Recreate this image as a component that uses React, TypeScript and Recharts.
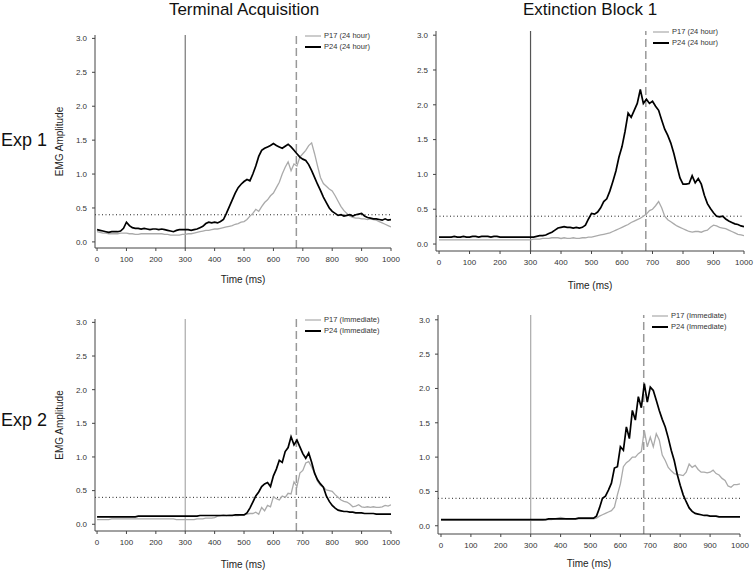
import { LineChart, Line, XAxis, YAxis, ReferenceLine, Legend } from 'recharts';

const times = Array.from({ length: 101 }, (_, i) => i * 10);

const p24TermExp1 = [
  0.18, 0.17, 0.16, 0.15, 0.14, 0.15, 0.15, 0.15, 0.16, 0.20,
  0.29, 0.24, 0.21, 0.20, 0.20, 0.19, 0.20, 0.19, 0.18, 0.19,
  0.19, 0.18, 0.19, 0.18, 0.17, 0.16, 0.15, 0.17, 0.18, 0.18,
  0.18, 0.18, 0.17, 0.18, 0.19, 0.21, 0.23, 0.27, 0.29, 0.28,
  0.29, 0.28, 0.30, 0.33, 0.42, 0.52, 0.62, 0.72, 0.80, 0.85,
  0.89, 0.92, 0.90, 1.00, 1.12, 1.26, 1.35, 1.38, 1.40, 1.42,
  1.45, 1.42, 1.40, 1.38, 1.41, 1.44, 1.40, 1.35, 1.30, 1.25,
  1.22, 1.20, 1.14, 1.05, 0.95, 0.85, 0.76, 0.66, 0.58, 0.50,
  0.45, 0.42, 0.39, 0.40, 0.38, 0.39, 0.40, 0.38, 0.40, 0.41,
  0.42, 0.38, 0.36, 0.35, 0.34, 0.34, 0.33, 0.32, 0.34, 0.32,
  0.33,
];

const p17TermExp1 = [
  0.15, 0.14, 0.13, 0.13, 0.12, 0.12, 0.12, 0.12, 0.13, 0.13,
  0.13, 0.12, 0.12, 0.11, 0.11, 0.12, 0.12, 0.12, 0.12, 0.12,
  0.12, 0.12, 0.12, 0.11, 0.11, 0.10, 0.10, 0.10, 0.10, 0.11,
  0.11, 0.12, 0.12, 0.13, 0.14, 0.15, 0.16, 0.17, 0.17, 0.18,
  0.19, 0.19, 0.20, 0.21, 0.22, 0.23, 0.24, 0.26, 0.27, 0.29,
  0.30, 0.33, 0.38, 0.42, 0.48, 0.45, 0.52, 0.58, 0.62, 0.68,
  0.72, 0.80, 0.88, 1.00, 1.10, 1.18, 1.05, 1.15, 1.12, 1.25,
  1.30, 1.35, 1.42, 1.46, 1.30, 1.12, 0.95, 0.86, 0.82, 0.78,
  0.75, 0.68, 0.60, 0.52, 0.46, 0.42, 0.38, 0.36, 0.35, 0.35,
  0.34, 0.34, 0.33, 0.34, 0.33, 0.32, 0.30, 0.28, 0.26, 0.24,
  0.22,
];

const p24ExtExp1 = [
  0.10, 0.10, 0.10, 0.10, 0.10, 0.11, 0.10, 0.10, 0.11, 0.10,
  0.10, 0.11, 0.11, 0.10, 0.11, 0.11, 0.11, 0.10, 0.11, 0.11,
  0.10, 0.10, 0.10, 0.10, 0.10, 0.10, 0.10, 0.10, 0.10, 0.10,
  0.10, 0.10, 0.11, 0.12, 0.12, 0.13, 0.15, 0.17, 0.20, 0.23,
  0.24, 0.25, 0.24, 0.24, 0.23, 0.24, 0.23, 0.24, 0.27, 0.36,
  0.44, 0.43, 0.46, 0.52, 0.61, 0.65, 0.76, 0.90, 1.05, 1.25,
  1.40, 1.62, 1.88, 1.82, 1.92, 2.02, 2.22, 2.02, 2.08, 2.02,
  2.05, 1.98, 1.92, 1.78, 1.65, 1.56, 1.45, 1.30, 1.12, 0.95,
  0.86, 0.86, 0.87, 0.98, 0.88, 0.94, 0.86, 0.70, 0.58, 0.51,
  0.45, 0.40, 0.39, 0.40, 0.36, 0.33, 0.31, 0.29, 0.28, 0.26,
  0.25,
];

const p17ExtExp1 = [
  0.06, 0.06, 0.06, 0.06, 0.06, 0.06, 0.06, 0.06, 0.06, 0.06,
  0.06, 0.06, 0.06, 0.06, 0.06, 0.06, 0.06, 0.06, 0.06, 0.06,
  0.06, 0.06, 0.06, 0.06, 0.06, 0.06, 0.06, 0.06, 0.06, 0.06,
  0.06, 0.07, 0.07, 0.07, 0.08, 0.08, 0.08, 0.09, 0.09, 0.09,
  0.08, 0.09, 0.08, 0.08, 0.09, 0.08, 0.08, 0.09, 0.09, 0.10,
  0.10, 0.11, 0.12, 0.13, 0.14, 0.15, 0.16, 0.18, 0.20, 0.22,
  0.24, 0.26, 0.28, 0.31, 0.33, 0.35, 0.37, 0.40, 0.43, 0.48,
  0.50, 0.55, 0.61, 0.52, 0.40, 0.35, 0.32, 0.29, 0.26, 0.24,
  0.22, 0.20, 0.18, 0.17, 0.18, 0.18, 0.17, 0.19, 0.20, 0.24,
  0.27, 0.26, 0.24, 0.23, 0.22, 0.20, 0.18, 0.16, 0.14, 0.13,
  0.12,
];

const p24TermExp2 = [
  0.11, 0.11, 0.11, 0.11, 0.11, 0.11, 0.11, 0.11, 0.11, 0.11,
  0.11, 0.11, 0.11, 0.11, 0.12, 0.12, 0.12, 0.12, 0.12, 0.12,
  0.12, 0.12, 0.12, 0.12, 0.12, 0.12, 0.12, 0.12, 0.12, 0.12,
  0.12, 0.12, 0.12, 0.12, 0.12, 0.13, 0.13, 0.13, 0.13, 0.13,
  0.13, 0.13, 0.13, 0.13, 0.13, 0.13, 0.13, 0.14, 0.14, 0.14,
  0.14, 0.17, 0.24, 0.33, 0.42, 0.48, 0.56, 0.60, 0.62, 0.56,
  0.72, 0.82, 0.95, 0.92, 1.08, 1.14, 1.30, 1.18, 1.25, 1.15,
  1.05, 0.98, 1.06, 0.92, 0.76, 0.66, 0.60, 0.55, 0.42, 0.34,
  0.28, 0.24, 0.21, 0.20, 0.19, 0.19, 0.18, 0.18, 0.17, 0.17,
  0.17, 0.16, 0.16, 0.16, 0.16, 0.15, 0.15, 0.15, 0.15, 0.15,
  0.15,
];

const p17TermExp2 = [
  0.07, 0.07, 0.07, 0.07, 0.07, 0.08, 0.08, 0.08, 0.08, 0.08,
  0.08, 0.08, 0.08, 0.08, 0.08, 0.08, 0.08, 0.08, 0.08, 0.08,
  0.08, 0.08, 0.08, 0.08, 0.08, 0.08, 0.08, 0.07, 0.07, 0.07,
  0.07, 0.07, 0.07, 0.07, 0.08, 0.08, 0.08, 0.09, 0.09, 0.09,
  0.10, 0.12, 0.13, 0.14, 0.13, 0.14, 0.14, 0.13, 0.13, 0.14,
  0.14, 0.15, 0.16, 0.16, 0.18, 0.15, 0.25, 0.20, 0.28, 0.26,
  0.41, 0.38, 0.36, 0.42, 0.40, 0.46, 0.45, 0.63, 0.56, 0.76,
  0.80, 0.91, 0.93, 0.85, 0.76, 0.64, 0.58, 0.55, 0.51, 0.50,
  0.49, 0.44, 0.40, 0.36, 0.34, 0.33, 0.30, 0.26, 0.27, 0.29,
  0.26, 0.25, 0.26, 0.25, 0.26, 0.25, 0.25, 0.26, 0.28, 0.27,
  0.29,
];

const p24ExtExp2 = [
  0.09, 0.09, 0.09, 0.09, 0.09, 0.09, 0.09, 0.09, 0.09, 0.09,
  0.09, 0.09, 0.09, 0.09, 0.09, 0.09, 0.09, 0.09, 0.09, 0.09,
  0.09, 0.09, 0.09, 0.09, 0.09, 0.09, 0.09, 0.09, 0.09, 0.09,
  0.09, 0.09, 0.09, 0.09, 0.09, 0.09, 0.10, 0.10, 0.10, 0.10,
  0.10, 0.10, 0.10, 0.10, 0.10, 0.10, 0.11, 0.11, 0.11, 0.11,
  0.11, 0.11, 0.14, 0.26, 0.40, 0.43, 0.52, 0.62, 0.84, 0.86,
  1.15, 1.10, 1.44, 1.27, 1.68, 1.54, 1.88, 1.72, 2.07, 1.80,
  2.02, 1.97, 1.83, 1.68, 1.55, 1.44, 1.28, 1.10, 0.95, 0.75,
  0.59, 0.45, 0.35, 0.26, 0.21, 0.18, 0.17, 0.16, 0.15, 0.15,
  0.14, 0.14, 0.14, 0.13, 0.13, 0.13, 0.13, 0.13, 0.13, 0.13,
  0.13,
];

const p17ExtExp2 = [
  0.08, 0.08, 0.08, 0.08, 0.08, 0.08, 0.08, 0.08, 0.08, 0.08,
  0.08, 0.08, 0.08, 0.08, 0.08, 0.08, 0.08, 0.08, 0.08, 0.08,
  0.08, 0.08, 0.08, 0.08, 0.08, 0.08, 0.08, 0.08, 0.08, 0.08,
  0.08, 0.08, 0.08, 0.08, 0.08, 0.09, 0.09, 0.09, 0.10, 0.11,
  0.12, 0.11, 0.10, 0.10, 0.10, 0.10, 0.10, 0.10, 0.10, 0.10,
  0.10, 0.10, 0.11, 0.14, 0.16, 0.18, 0.20, 0.22, 0.27, 0.45,
  0.61, 0.86, 0.92, 0.95, 1.00, 1.00, 1.05, 1.08, 1.39, 1.15,
  1.29, 1.15, 1.34, 1.25, 1.03, 0.95, 0.85, 0.80, 0.76, 0.75,
  0.74, 0.73, 0.78, 0.90, 0.85, 0.88, 0.82, 0.78, 0.78, 0.77,
  0.78, 0.81, 0.76, 0.74, 0.69, 0.66, 0.58, 0.56, 0.60, 0.60,
  0.61,
];

const xTicks = [0, 100, 200, 300, 400, 500, 600, 700, 800, 900, 1000];
const yTicks = [0, 0.5, 1, 1.5, 2, 2.5, 3];
const columnTitles = ['Terminal Acquisition', 'Extinction Block 1'];
const rowTitles = ['Exp 1', 'Exp 2'];

const FONT = '"Liberation Sans", Arial, Helvetica, sans-serif';
const AXIS = '#444';

// space around plot area inside each chart
const AX = 50;
const TOP = 10;
const RIGHT = 25;
const BOT = 45;

const panels = [
  { id: 'te1', p17: p17TermExp1, p24: p24TermExp1, tag: '24 hour', left: 95, right: 391, top: 35, bottom: 248, yMin: -0.09, yMax: 3.05, xMin: -7, cs: '#777', yLabel: true, tOff: 10, lx: 305, ly: 30 },
  { id: 'ee1', p17: p17ExtExp1, p24: p24ExtExp1, tag: '24 hour', left: 436, right: 744, top: 31, bottom: 251, yMin: -0.1, yMax: 3.06, xMin: -10, cs: '#555', yLabel: false, tOff: 7, lx: 653, ly: 26 },
  { id: 'te2', p17: p17TermExp2, p24: p24TermExp2, tag: 'Immediate', left: 95, right: 391, top: 319, bottom: 531, yMin: -0.1, yMax: 3.05, xMin: -7, cs: '#aaa', yLabel: true, tOff: 8, lx: 305, ly: 314 },
  { id: 'ee2', p17: p17ExtExp2, p24: p24ExtExp2, tag: 'Immediate', left: 438, right: 740, top: 315, bottom: 534, yMin: -0.12, yMax: 3.07, xMin: -10, cs: '#aaa', yLabel: false, tOff: 12, lx: 652, ly: 310 },
];

function LegendBox({ tag }: { tag: string }) {
  const rows: [string, string, number][] = [
    ['P17', '#aaa', 1.2],
    ['P24', '#000', 2],
  ];
  return (
    <div style={{ fontFamily: FONT, fontSize: 7.5, color: '#333' }}>
      {rows.map(([n, c, w]) => (
        <div key={n} style={{ display: 'flex', alignItems: 'center', height: 11, whiteSpace: 'nowrap' }}>
          <svg width={19} height={4} style={{ display: 'block' }}>
            <line x1={0} x2={16} y1={2} y2={2} stroke={c} strokeWidth={w} />
          </svg>
          <span>{n} ({tag})</span>
        </div>
      ))}
    </div>
  );
}

function EmgPanel({ cfg }: { cfg: any }) {
  const data = times.map((t, i) => ({ t, p17: cfg.p17[i], p24: cfg.p24[i] }));
  const w = cfg.right - cfg.left;
  const h = cfg.bottom - cfg.top;
  const ox = cfg.left - AX;
  const oy = cfg.top - TOP;
  const tick = { fill: '#333', fontSize: 8, fontFamily: FONT };
  return (
    <div style={{ position: 'absolute', left: ox, top: oy }}>
      <LineChart width={w + AX + RIGHT} height={h + TOP + BOT} data={data} margin={{ top: TOP, right: RIGHT, left: 0, bottom: 0 }}>
        <XAxis
          dataKey="t"
          type="number"
          domain={[cfg.xMin, 1000]}
          ticks={xTicks}
          allowDataOverflow
          height={BOT}
          stroke={AXIS}
          tickSize={3}
          tickMargin={5}
          tick={tick}
          label={{ value: 'Time (ms)', position: 'insideBottom', offset: cfg.tOff, style: { fontSize: 10, fill: '#222', fontFamily: FONT } }}
        />
        <YAxis
          type="number"
          domain={[cfg.yMin, cfg.yMax]}
          ticks={yTicks}
          allowDataOverflow
          width={AX}
          stroke={AXIS}
          tickSize={3}
          tickMargin={5}
          tick={tick}
          tickFormatter={(v: number) => v.toFixed(1)}
          label={cfg.yLabel ? { value: 'EMG Amplitude', angle: -90, position: 'insideLeft', offset: 14, style: { textAnchor: 'middle', fontSize: 10, fill: '#222', fontFamily: FONT } } : undefined}
        />
        <ReferenceLine y={0.4} stroke="#222" strokeDasharray="1 2.5" strokeWidth={1} />
        <ReferenceLine x={300} stroke={cfg.cs} strokeWidth={1.2} />
        <ReferenceLine x={678} stroke="#999" strokeWidth={1.5} strokeDasharray="8 4" />
        <Line type="linear" dataKey="p17" stroke="#aaa" strokeWidth={1.3} dot={false} isAnimationActive={false} />
        <Line type="linear" dataKey="p24" stroke="#000" strokeWidth={1.7} dot={false} isAnimationActive={false} />
        <Legend
          layout="vertical"
          align="center"
          verticalAlign="middle"
          content={() => <LegendBox tag={cfg.tag} />}
          wrapperStyle={{ left: cfg.lx - ox, top: cfg.ly - oy, width: 'auto' }}
        />
      </LineChart>
    </div>
  );
}

export default function App() {
  return (
    <div style={{ position: 'absolute', left: 0, top: 0, width: 754, height: 574, overflow: 'hidden', background: '#fff', fontFamily: FONT }}>
      {panels.map((p) => (
        <EmgPanel key={p.id} cfg={p} />
      ))}
      {columnTitles.map((t, i) => (
        <div key={t} style={{ position: 'absolute', left: (i === 0 ? 244 : 590) - 150, width: 300, top: 0, textAlign: 'center', fontSize: 17, lineHeight: '19px', color: '#111' }}>
          {t}
        </div>
      ))}
      {rowTitles.map((t, i) => (
        <div key={t} style={{ position: 'absolute', left: 1, top: i === 0 ? 130 : 410, fontSize: 18, lineHeight: '20px', color: '#111' }}>
          {t}
        </div>
      ))}
    </div>
  );
}
